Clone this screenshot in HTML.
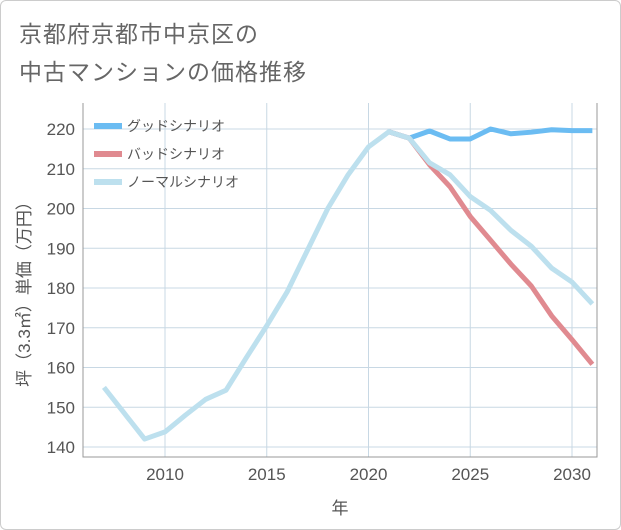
<!DOCTYPE html>
<html><head><meta charset="utf-8"><style>
body{margin:0;background:#fff;font-family:"Liberation Sans","Noto Sans CJK JP",sans-serif;}
#card{position:absolute;left:0;top:0;width:619px;height:528px;border:1px solid #ccc;border-radius:6px;background:#fff;}
#title{position:absolute;left:18px;top:14px;font-size:23px;line-height:38px;color:#666;letter-spacing:1px;}
</style></head><body>
<div id="card">
<div id="title">京都府京都市中京区の<br>中古マンションの価格推移</div>
<svg id="chart" width="621" height="530" style="position:absolute;left:-1px;top:-1px"></svg>
</div>
<script>
const years=[2007,2008,2009,2010,2011,2012,2013,2014,2015,2016,2017,2018,2019,2020,2021,2022,2023,2024,2025,2026,2027,2028,2029,2030,2031];
const normal=[155,148.5,142,143.8,148,152,154.3,162.5,170.5,179,189.5,200,208.5,215.5,219.3,217.7,211.5,208.5,203,199.5,194.5,190.5,185,181.5,176];
const goodYears=[2021,2022,2023,2024,2025,2026,2027,2028,2029,2030,2031];
const good=[219.3,217.7,219.5,217.5,217.5,220,218.8,219.2,219.8,219.6,219.6];
const bad=[219.3,217.7,211,205.5,198,192,186,180.5,173,167,160.8];
const yTicks=[140,150,160,170,180,190,200,210,220];
const xTicks=[2010,2015,2020,2025,2030];
const NS='http://www.w3.org/2000/svg';
const svg=document.getElementById('chart');
const L=83,R=597,T=103,B=457;
const x=v=>165+(v-2010)*(572-165)/20;
const y=v=>129+(220-v)*(447-129)/80;
function mk(t,a){const e=document.createElementNS(NS,t);for(const k in a)e.setAttribute(k,a[k]);svg.appendChild(e);return e;}
yTicks.forEach(v=>{
 const g=mk('line',{x1:L,x2:R,y1:y(v),y2:y(v),stroke:'#c8d8e4','stroke-width':1});
 
 
 const t=mk('text',{x:L-8,y:y(v)+6,'text-anchor':'end','font-size':17,fill:'#555'});
 t.textContent=v;
 
 
});
xTicks.forEach(v=>{
 const g=mk('line',{x1:x(v),x2:x(v),y1:T,y2:B,stroke:'#c8d8e4','stroke-width':1});
 
 
 const t=mk('text',{x:x(v),y:B+23,'text-anchor':'middle','font-size':17,fill:'#555'});
 t.textContent=v;
 
 
});
const ax=mk('path',{d:`M${L} ${T}V${B}H${R}V${T}`,fill:'none',stroke:'#999','stroke-width':1});


function line(xs,vs,color,name){
 const p=mk('polyline',{points:xs.map((v,i)=>x(v)+','+y(vs[i])).join(' '),fill:'none',stroke:color,'stroke-width':5,'stroke-linejoin':'round'});
 
 
}
line(goodYears,good,'#6bbcf2','good-scenario-line');
line(goodYears,bad,'#e08a90','bad-scenario-line');
line(years,normal,'#bde0ee','normal-scenario-line');
const leg=[['グッドシナリオ','#6bbcf2','legend-good'],['バッドシナリオ','#e08a90','legend-bad'],['ノーマルシナリオ','#bde0ee','legend-normal']];
leg.forEach((d,i)=>{
 const yy=126+i*28;
 const l=mk('line',{x1:94,x2:122,y1:yy,y2:yy,stroke:d[1],'stroke-width':6});
 
 
 const t=mk('text',{x:127,y:yy+5,'font-size':14,fill:'#555'});
 t.textContent=d[0];
 
 
});
const xt=mk('text',{x:340,y:514,'text-anchor':'middle','font-size':17,fill:'#555'});
xt.textContent='年';


const yt=mk('text',{x:0,y:0,'text-anchor':'middle','font-size':17,fill:'#555',transform:'translate(30,290) rotate(-90)'});
yt.textContent='坪（3.3㎡）単価（万円）';


</script>
</body></html>
